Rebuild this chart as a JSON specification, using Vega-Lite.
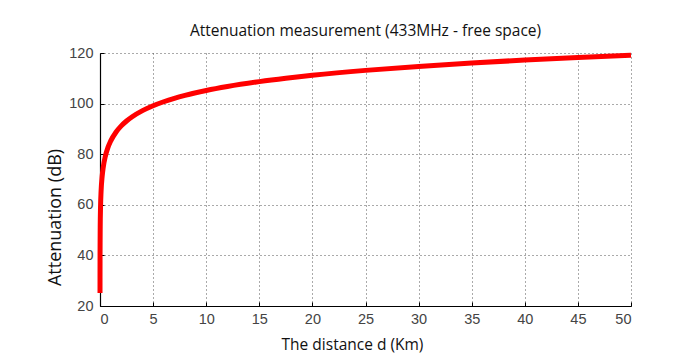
{
  "$schema": "https://vega.github.io/schema/vega-lite/v6.json",
  "width": 531,
  "height": 253,
  "autosize": {"type": "none"},
  "padding": {"left": 100, "top": 53, "right": 44, "bottom": 55},
  "background": "white",
  "title": {
    "text": "Attenuation measurement (433MHz - free space)",
    "font": "Open Sans",
    "fontSize": 15.5,
    "fontWeight": "normal",
    "color": "#111",
    "anchor": "middle",
    "offset": 6
  },
  "data": {
    "values": [
      {"d": 0.001, "att": 25.17},
      {"d": 0.002, "att": 31.19},
      {"d": 0.005, "att": 39.15},
      {"d": 0.01, "att": 45.17},
      {"d": 0.02, "att": 51.19},
      {"d": 0.05, "att": 59.15},
      {"d": 0.1, "att": 65.17},
      {"d": 0.2, "att": 71.19},
      {"d": 0.3, "att": 74.71},
      {"d": 0.5, "att": 79.15},
      {"d": 0.75, "att": 82.67},
      {"d": 1, "att": 85.17},
      {"d": 1.5, "att": 88.69},
      {"d": 2, "att": 91.19},
      {"d": 2.5, "att": 93.13},
      {"d": 3, "att": 94.71},
      {"d": 4, "att": 97.21},
      {"d": 5, "att": 99.15},
      {"d": 6, "att": 100.73},
      {"d": 7, "att": 102.07},
      {"d": 8, "att": 103.23},
      {"d": 10, "att": 105.17},
      {"d": 12, "att": 106.75},
      {"d": 15, "att": 108.69},
      {"d": 17.5, "att": 110.03},
      {"d": 20, "att": 111.19},
      {"d": 25, "att": 113.13},
      {"d": 30, "att": 114.71},
      {"d": 35, "att": 116.05},
      {"d": 40, "att": 117.21},
      {"d": 45, "att": 118.23},
      {"d": 50, "att": 119.15}
    ]
  },
  "mark": {"type": "line", "color": "#ff0000", "strokeWidth": 5, "interpolate": "monotone", "clip": false},
  "encoding": {
    "x": {
      "field": "d",
      "type": "quantitative",
      "scale": {"domain": [0, 50], "nice": false, "zero": false},
      "axis": {
        "title": "The distance d (Km)",
        "values": [0, 5, 10, 15, 20, 25, 30, 35, 40, 45, 50],
        "labelPadding": 10,
        "titleFontSize": 15.5,
        "titleX": 252,
        "titleY": 46,
        "titleBaseline": "bottom"
      }
    },
    "y": {
      "field": "att",
      "type": "quantitative",
      "scale": {"domain": [20, 120], "nice": false, "zero": false},
      "axis": {
        "title": "Attenuation (dB)",
        "values": [20, 40, 60, 80, 100, 120],
        "labelPadding": 11,
        "titleFontSize": 18,
        "titleX": -45,
        "titleY": 164,
        "titleBaseline": "middle",
        "titleAlign": "center",
        "titleAngle": -90
      }
    }
  },
  "config": {
    "view": {"stroke": null},
    "axis": {
      "domainColor": "#000",
      "domainWidth": 1.2,
      "tickColor": "#000",
      "tickSize": -4,
      "labelFont": "Liberation Sans",
      "labelFontSize": 14.5,
      "labelColor": "#444",
      "titleFont": "Open Sans",
      "titleFontWeight": "normal",
      "titleColor": "#111",
      "grid": true,
      "gridColor": "#555",
      "gridDash": [1, 3],
      "gridWidth": 1,
      "gridOpacity": 1
    }
  }
}
